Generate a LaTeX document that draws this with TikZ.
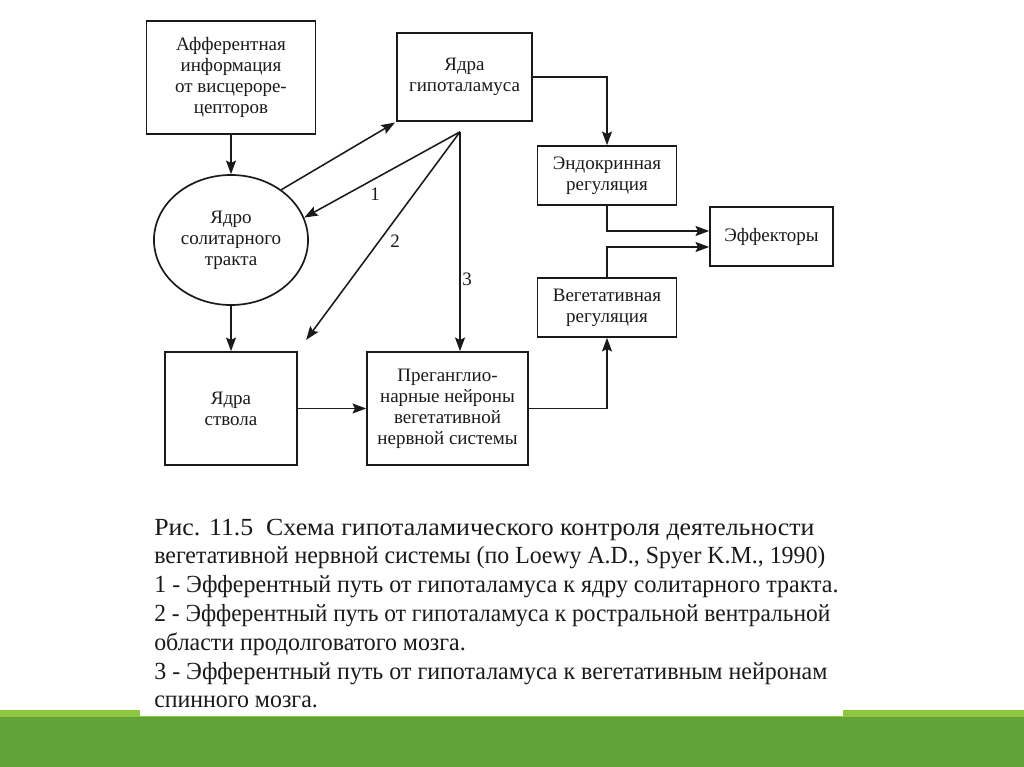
\documentclass[tikz,border=0pt]{standalone}
\usepackage{fontspec}
\usepackage{graphicx}
\setmainfont{Liberation Serif}
\usetikzlibrary{arrows.meta,shapes.geometric,calc}
\definecolor{ink}{HTML}{1A1A1A}
\definecolor{lgreen}{HTML}{8DC63F}
\definecolor{dgreen}{HTML}{62A337}
\begin{document}
\begin{tikzpicture}[x=0.025cm,y=-0.025cm,
  every node/.style={text=ink},
  box/.style={draw=ink,line width=1.2pt,rectangle,inner sep=0pt,align=center,
    font=\fontsize{13.5}{15}\selectfont},
  oval/.style={draw=ink,line width=1.2pt,ellipse,inner sep=0pt,align=center,
    font=\fontsize{13.5}{15}\selectfont,minimum width=3.85cm,minimum height=3.25cm},
  arr/.style={draw=ink,line width=1.1pt,-{Stealth[length=3.4mm,width=2.5mm,inset=0.6mm]}},
  lbl/.style={font=\fontsize{13.5}{15}\selectfont,inner sep=0pt},
  captxt/.style={anchor=base west,inner sep=0pt,font=\fontsize{17.5}{19}\selectfont}]
\useasboundingbox (0,0) rectangle (1024,767);
\fill[white] (0,0) rectangle (1024,767);
% green bars
\fill[lgreen] (0,710) rectangle (1024,717);
\fill[dgreen] (0,717) rectangle (1024,767);
\fill[white] (140,700) rectangle (843,716);

% nodes
\node[box,minimum width=4.225cm,minimum height=2.825cm] (aff) at (231,77.5)
  {Афферентная\\информация\\от висцерорe-\\цепторов};
\node[box,minimum width=3.375cm,minimum height=2.2cm] (hyp) at (464.5,77)
  {Ядра\\гипоталамуса};
\node[oval] (nts) at (231,240) {Ядро\\солитарного\\тракта};
\node[box,minimum width=3.3cm,minimum height=2.825cm] (stem) at (231,408.5)
  {Ядра\\ствола};
\node[box,minimum width=4.025cm,minimum height=2.825cm] (preg) at (447.5,408.5)
  {Преганглио-\\нарные нейроны\\вегетативной\\нервной системы};
\node[box,minimum width=3.475cm,minimum height=1.475cm] (endo) at (607,175.5)
  {Эндокринная\\регуляция};
\node[box,minimum width=3.075cm,minimum height=1.475cm] (eff) at (771.5,236.5)
  {Эффекторы};
\node[box,minimum width=3.475cm,minimum height=1.475cm] (veg) at (607,307.5)
  {Вегетативная\\регуляция};

% connectors
\draw[arr] (aff.south) -- (nts.north);
\draw[arr] (nts.south) -- (stem.north);
\draw[arr,shorten >=1pt] (nts.45) -- (hyp.south west);
\coordinate (h) at ($(hyp.south)+(-4.5,10)$);
\draw[arr] (h) -- (nts.17);
\draw[arr,shorten >=3.5mm] (h) -- (stem.north east);
\draw[arr] (h) -- (h |- preg.north);
\node[lbl] (l1) at (375,194) {1};
\node[lbl] (l2) at (395,241) {2};
\node[lbl] (l3) at (467,279) {3};
\draw[arr] (hyp.east) -| (endo.north);
\draw[arr] (endo.south) |- ($(eff.west)+(0,-5.5)$);
\draw[arr] (veg.north) |- ($(eff.west)+(0,10.5)$);
\draw[arr] (stem.east) -- (preg.west);
\draw[arr] (preg.east) -| (veg.south);

% caption
\node[captxt] (c1) at (154,535) {\resizebox{16.5cm}{\height}{Рис. 11.5\ \ Схема гипоталамического контроля деятельности}};
\node[captxt] (c2) at (154,563) {\resizebox{16.775cm}{\height}{вегетативной нервной системы (по Loewy A.D., Spyer K.M., 1990)}};
\node[captxt] (c3) at (154,592) {\resizebox{17.1cm}{\height}{1 - Эфферентный путь от гипоталамуса к ядру солитарного тракта.}};
\node[captxt] (c4) at (154,621) {\resizebox{16.9cm}{\height}{2 - Эфферентный путь от гипоталамуса к ростральной вентральной}};
\node[captxt] (c5) at (154,650) {\scalebox{0.97}[1]{области продолговатого мозга.}};
\node[captxt] (c6) at (154,679) {\resizebox{16.825cm}{\height}{3 - Эфферентный путь от гипоталамуса к вегетативным нейронам}};
\node[captxt] (c7) at (154,707) {\scalebox{0.97}[1]{спинного мозга.}};
\end{tikzpicture}
\end{document}
